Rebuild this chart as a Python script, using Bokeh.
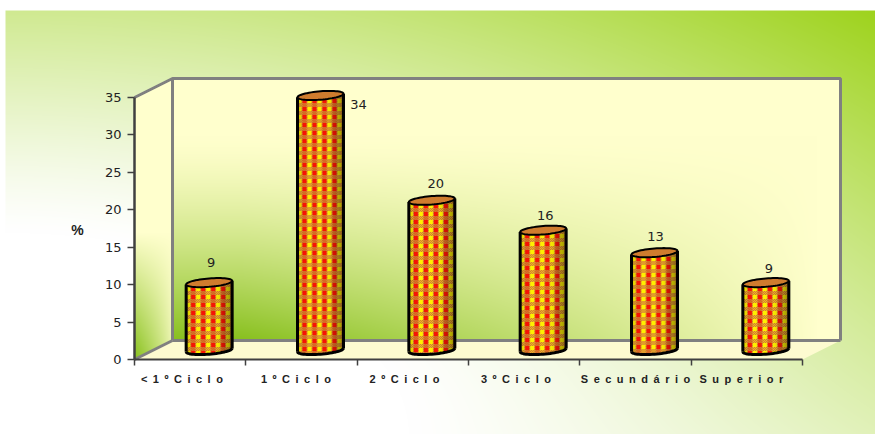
import numpy as np
from bokeh.core.properties import value
from bokeh.embed import file_html
from bokeh.models import FixedTicker, LinearAxis
from bokeh.plotting import figure
from bokeh.resources import INLINE

# Chart data
categories = ["<1ºCiclo", "1ºCiclo", "2ºCiclo", "3ºCiclo", "Secundário", "Superior"]
percent = [9, 34, 20, 16, 13, 9]
y_ticks = [0, 5, 10, 15, 20, 25, 30, 35]
y_title = "%"

# Page geometry, in pixels
W, H = 875, 434
X0, X1 = 134, 802          # ends of the category axis
Y0, Y35 = 359, 97          # pixel rows of 0 and 35 on the value axis
DEPTH_X, DEPTH_Y = 38, 19  # 3D depth of the box
BAR_W = 46
RIM_RY, RIM_SKEW = 4.2, 1.8

cat_px = (X1 - X0) / len(categories)
val_px = (Y0 - Y35) / 35
dx = DEPTH_X / cat_px
dy = DEPTH_Y / val_px


def rgba(arr):
    """Pack a float array (rows top-down, r g b a in 0..255) for image_rgba."""
    a = np.clip(arr, 0, 255).astype(np.uint8)[::-1]
    return a.view(np.uint32).reshape(a.shape[:2]).copy()


def lerp(c0, c1, t):
    c0, c1 = np.array(c0, float), np.array(c1, float)
    return c0 + (c1 - c0) * t[..., None]


p = figure(
    width=W, height=H, output_backend="svg", toolbar_location=None,
    x_range=(-X0 / cat_px, (W - X0) / cat_px),
    y_range=((Y0 - H) / val_px, Y0 / val_px),
    x_axis_location=None, y_axis_location=None,
    min_border=0, outline_line_color=None, background_fill_color="white",
    border_fill_color="white",
)
p.grid.visible = False
x_left, x_right = p.x_range.start, p.x_range.end
y_low, y_high = p.y_range.start, p.y_range.end

# Page backdrop: green wash from the top right corner
py, px = np.mgrid[0:H, 0:W].astype(float)
d = np.hypot(px / W, (H - py) / H) / np.sqrt(2)
t = np.clip((d - 0.33) / 0.67, 0, 1) ** 1.2 * (1 - 0.4 * (py / H) ** 3)
bg = lerp((255, 255, 255), (156, 210, 24), t)
bg[py < 10] = 255
bg[px < 5] = 255
p.image_rgba(
    image=[rgba(np.dstack([bg, np.full((H, W), 255.0)]))],
    x=x_left, y=y_low, dw=x_right - x_left, dh=y_high - y_low,
)

# Back wall
wall_w, wall_h = X1 - X0, Y0 - Y35
wy, wx = np.mgrid[0:wall_h, 0:wall_w].astype(float)
g = np.clip((wy - wall_h * 0.22) / (wall_h * 0.78), 0, 1) ** 1.4
g = g * np.clip(1.12 - wx / (wall_w * 0.86), 0, 1) ** 0.9
wall = lerp((255, 255, 205), (136, 192, 30), np.clip(g, 0, 1))
p.image_rgba(
    image=[rgba(np.dstack([wall, np.full((wall_h, wall_w), 255.0)]))],
    x=dx, y=dy, dw=6, dh=35,
)

# Side wall: a sheared panel running from the axis to the back wall
side_h = wall_h + DEPTH_Y
sy, sx = np.mgrid[0:side_h, 0:DEPTH_X].astype(float)
top_edge = DEPTH_Y - sx * DEPTH_Y / DEPTH_X
bot_edge = side_h - sx * DEPTH_Y / DEPTH_X
g = np.clip((sy - side_h * 0.55) / (side_h * 0.45), 0, 1) * np.clip(1.05 - sx / DEPTH_X, 0, 1) ** 0.7
side = lerp((255, 255, 205), (140, 195, 35), g)
alpha = ((sy >= top_edge) & (sy <= bot_edge)) * 255.0
p.image_rgba(
    image=[rgba(np.dstack([side, alpha]))],
    x=0, y=0, dw=dx, dh=(side_h / val_px),
)

# Floor
p.patch([0, dx, 6 + dx, 6], [0, dy, dy, 0], fill_color="#fdfbd0", line_color=None)

# Box edges
edge = "#808080"
p.multi_line(
    [[0, dx, 6 + dx, 6 + dx], [dx, dx], [dx, 6 + dx], [0, dx]],
    [[35, 35 + dy, 35 + dy, dy], [dy, 35 + dy], [dy, dy], [0, dy]],
    line_color=edge, line_width=3,
)

# Plaid woven into each cylinder
def cylinder_texture(height_px):
    rows = int(round(height_px))
    y, x = np.mgrid[0:rows, 0:BAR_W]
    u, v = x % 10, y % 8
    bright = v >= 4
    yellow = u < 4
    red = (u >= 5) & (u < 9)
    checker = (x + y) % 2 == 0
    img = np.zeros((rows, BAR_W, 3))
    # Orange ground, with the warp colour showing through every other thread
    img[...] = (205, 125, 45)
    img[checker] = (225, 150, 45)
    img[yellow & checker] = (245, 190, 40)
    img[red & checker] = (225, 90, 30)
    img[bright & yellow] = (255, 240, 0)
    img[bright & red] = (245, 20, 5)
    # Round the surface with a left-to-right shade
    s = (x + 0.5) / BAR_W
    shade = np.where(s < 0.12, 0.8 + 0.2 * s / 0.12, 1.0)
    shade = np.where(s > 0.62, 1.0 - 0.42 * ((s - 0.62) / 0.38) ** 1.4, shade)
    return img * shade[..., None]


cx = [i + 0.5 + dx / 2 for i in range(len(percent))]
base = dy / 2
for c, v in zip(cx, percent):
    body_px = v * val_px + RIM_RY + RIM_SKEW
    tex = cylinder_texture(body_px)
    rows, cols = tex.shape[:2]
    y, x = np.mgrid[0:rows, 0:cols].astype(float)
    tt = (x + 0.5) / cols * 2 - 1
    lower = rows - RIM_RY - RIM_SKEW + RIM_RY * np.sqrt(np.clip(1 - tt ** 2, 0, 1)) - RIM_SKEW * tt
    upper = -RIM_SKEW * tt
    a = ((y <= lower) & (y >= upper)) * 255.0
    p.image_rgba(
        image=[rgba(np.dstack([tex, a]))],
        x=c - BAR_W / 2 / cat_px, y=base - (RIM_RY + RIM_SKEW) / val_px,
        dw=BAR_W / cat_px, dh=rows / val_px,
    )

# Rims, sides and base curves of the cylinders
ang = np.linspace(0, 2 * np.pi, 61)
half = np.linspace(np.pi, 0, 31)
rim_x, rim_y, base_x, base_y, side_x, side_y = [], [], [], [], [], []
hw = BAR_W / 2 / cat_px
for c, v in zip(cx, percent):
    top = base + v
    rim_x.append(c + hw * np.cos(ang))
    rim_y.append(top + (RIM_RY * np.sin(ang) + RIM_SKEW * np.cos(ang)) / val_px)
    base_x.append(c + hw * np.cos(half))
    base_y.append(base + (-RIM_RY * np.sin(half) + RIM_SKEW * np.cos(half)) / val_px)
    side_x += [[c - hw, c - hw], [c + hw, c + hw]]
    side_y += [[base - RIM_SKEW / val_px, top - RIM_SKEW / val_px],
               [base + RIM_SKEW / val_px, top + RIM_SKEW / val_px]]
p.multi_line(side_x, side_y, line_color="black", line_width=3)
p.multi_line(base_x, base_y, line_color="black", line_width=3)
p.patches(rim_x, rim_y, fill_color="#cf7c2e", line_color="black", line_width=2)

# Value labels above the cylinders
label_dx = [2, 38, 4, 2, 1, 3]
label_dy = [20, -9, 17, 15, 16, 14]
p.text(
    x=cx, y=[base + v for v in percent], text=[str(v) for v in percent],
    x_offset=label_dx, y_offset=[-d_ for d_ in label_dy],
    text_font=value("DejaVu Sans"), text_font_size="13px", text_color="#222222",
    text_align="center", text_baseline="middle",
)

# Value axis
y_axis = LinearAxis(
    ticker=FixedTicker(ticks=y_ticks), bounds=(0, 35), fixed_location=0,
    axis_line_color="#404040", axis_line_width=2.5,
    major_tick_line_color="#404040", major_tick_line_width=1.5,
    major_tick_out=7, major_tick_in=0, minor_tick_out=0, minor_tick_in=0,
    major_label_standoff=6, major_label_text_font="DejaVu Sans",
    major_label_text_font_size="13px", major_label_text_color="#222222",
)
p.add_layout(y_axis, "left")

# Category axis: ticks between the groups, spaced-out names under them
x_axis = LinearAxis(
    ticker=FixedTicker(ticks=list(range(len(categories) + 1))), bounds=(0, 6), fixed_location=0,
    axis_line_color="#404040", axis_line_width=2,
    major_tick_line_color="#404040", major_tick_line_width=1.5,
    major_tick_out=6, major_tick_in=0, minor_tick_out=0, minor_tick_in=0,
    major_label_text_color=None, major_label_text_font_size="1px",
)
p.add_layout(x_axis, "below")

# Trailing spaces keep the names slightly left of their group centres
trail = [3, 2, 3, 3, 0, 2]
spaced = ["\u2002".join(name) + "\u2002" * n for name, n in zip(categories, trail)]
name_axis = LinearAxis(
    ticker=FixedTicker(ticks=[i + 0.5 for i in range(len(categories))]), fixed_location=0,
    major_label_overrides={i + 0.5: s for i, s in enumerate(spaced)},
    axis_line_color=None, major_tick_line_color=None, minor_tick_line_color=None,
    major_tick_out=0, major_tick_in=0, minor_tick_out=0, minor_tick_in=0,
    major_label_standoff=13, major_label_text_font="Liberation Sans",
    major_label_text_font_style="bold", major_label_text_font_size="11px",
    major_label_text_color="#222222",
)
p.add_layout(name_axis, "below")

# Value axis title
p.text(
    x=[(77 - X0) / cat_px], y=[(Y0 - 229) / val_px], text=[y_title],
    text_font=value("Liberation Sans"), text_font_style="bold", text_font_size="14px",
    text_color="#222222", text_align="center", text_baseline="middle",
)

open("out.html", "w").write(file_html(p, INLINE))
